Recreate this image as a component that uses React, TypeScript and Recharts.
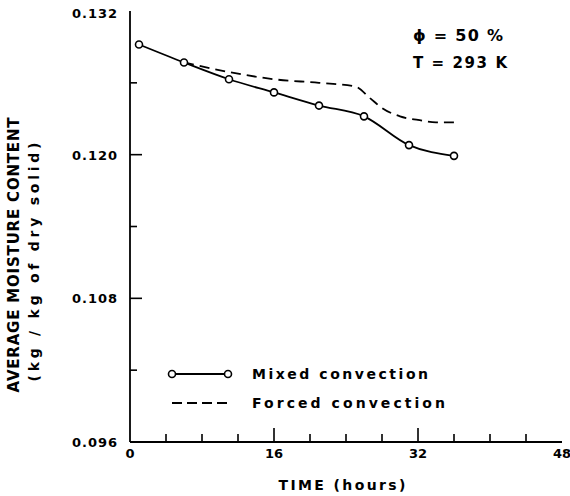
import React from 'react';
import { LineChart, Line, XAxis, YAxis, Legend } from 'recharts';

// Mixed convection (measured points)
const mixedHours = [1, 6, 11, 16, 21, 26, 31, 36];
const mixedMoisture = [0.1292, 0.1277, 0.1263, 0.1252, 0.1241, 0.1232, 0.1208, 0.1199];

// Forced convection (dashed curve)
const forcedHours = [6, 11, 16, 21, 25, 26.7, 28, 30, 32, 34, 36];
const forcedMoisture = [0.1277, 0.1269, 0.1263, 0.126, 0.1257, 0.1247, 0.1239, 0.1232, 0.1229, 0.1227, 0.1227];

const xTicks = [0, 4, 8, 12, 16, 20, 24, 28, 32, 36, 40, 44, 48];
const xMajor = [0, 16, 32, 48];
const yTicks = [0.096, 0.102, 0.108, 0.114, 0.12, 0.126, 0.132];
const yMajor = ['0.096', '0.108', '0.120', '0.132'];

const mixedData = mixedHours.map((x, i) => ({ x, y: mixedMoisture[i] }));
const forcedData = forcedHours.map((x, i) => ({ x, y: forcedMoisture[i] }));

const FONT = '"DejaVu Sans", sans-serif';

const renderXTick = (props: any) => {
  const { x, y, payload } = props;
  const v = Number(payload.value);
  const major = xMajor.includes(v);
  const showLine = v !== 0 && v !== 48;
  const px = Number(x);
  const py = Number(y);
  return (
    <g key={`xt-${v}`}>
      {showLine ? (
        <rect x={px - 0.8} y={py - (major ? 14 : 8)} width={1.6} height={major ? 14 : 8} fill="#000" stroke="none" />
      ) : null}
      {major ? (
        <text x={px} y={py + 16} textAnchor="middle" fontFamily={FONT} fontWeight="bold" fontSize={13} fill="#000">
          {String(v)}
        </text>
      ) : null}
    </g>
  );
};

const renderYTick = (props: any) => {
  const { x, y, payload } = props;
  const label = Number(payload.value).toFixed(3);
  const major = yMajor.includes(label);
  const isEnd = label === '0.096' || label === '0.132';
  const px = Number(x);
  const py = Number(y);
  return (
    <g key={`yt-${label}`}>
      {!isEnd ? (
        <rect x={px} y={py - 0.8} width={major ? 12 : 7} height={1.6} fill="#000" stroke="none" />
      ) : null}
      {major ? (
        <text x={px - 13} y={py + (label === '0.132' ? 7 : 5)} textAnchor="end" fontFamily={FONT} fontWeight="bold" fontSize={13} fill="#000" textLength={45} lengthAdjust="spacing">
          {label}
        </text>
      ) : null}
    </g>
  );
};

const YTitle = () => (
  <g>
    <text x={19} y={255} transform="rotate(-90, 19, 255)" textAnchor="middle" fontFamily={FONT} fontWeight="bold" fontSize={15} fill="#000" textLength={275} lengthAdjust="spacing">
      AVERAGE MOISTURE CONTENT
    </text>
    <text x={39} y={262} transform="rotate(-90, 39, 262)" textAnchor="middle" fontFamily={FONT} fontWeight="bold" fontSize={14} fill="#000" textLength={239} lengthAdjust="spacing">
      (kg / kg of dry solid)
    </text>
  </g>
);

const XTitle = () => (
  <text x={342} y={490} textAnchor="middle" fontFamily={FONT} fontWeight="bold" fontSize={14} fill="#000" textLength={127} lengthAdjust="spacing">
    TIME (hours)
  </text>
);

const renderLegend = () => (
  <svg width={300} height={60} style={{ display: 'block' }}>
    <line x1={7} x2={63} y1={12} y2={12} stroke="#000" strokeWidth={2} />
    <circle cx={7} cy={12} r={3.5} fill="#fff" stroke="#000" strokeWidth={1.6} />
    <circle cx={63} cy={12} r={3.5} fill="#fff" stroke="#000" strokeWidth={1.6} />
    <text x={87} y={17} fontFamily={FONT} fontWeight="bold" fontSize={14} fill="#000" textLength={176} lengthAdjust="spacing">
      Mixed convection
    </text>
    <line x1={7} x2={63} y1={41} y2={41} stroke="#000" strokeWidth={1.8} strokeDasharray="10 5" />
    <text x={87} y={46} fontFamily={FONT} fontWeight="bold" fontSize={14} fill="#000" textLength={193} lengthAdjust="spacing">
      Forced convection
    </text>
  </svg>
);

export default function App() {
  return (
    <div style={{ position: 'absolute', left: 0, top: 0, width: 570, height: 496, background: '#fff' }}>
      <LineChart width={570} height={496} margin={{ top: 11, right: 8, bottom: 0, left: 0 }}>
        <XAxis
          xAxisId="bottom"
          type="number"
          dataKey="x"
          domain={[0, 48]}
          ticks={xTicks}
          interval={0}
          height={54}
          tickSize={0}
          tickMargin={0}
          tickLine={false}
          tick={renderXTick}
          axisLine={{ stroke: '#000', strokeWidth: 1.8 }}
          label={{ content: () => <XTitle /> }}
          allowDataOverflow
        />
        <XAxis
          xAxisId="top"
          orientation="top"
          type="number"
          dataKey="x"
          domain={[0, 48]}
          height={0}
          tick={false}
          tickLine={false}
          axisLine={{ stroke: '#000', strokeWidth: 1.8 }}
        />
        <YAxis
          yAxisId="left"
          type="number"
          domain={[0.096, 0.132]}
          ticks={yTicks}
          interval={0}
          width={130}
          tickSize={0}
          tickMargin={0}
          tickLine={false}
          tick={renderYTick}
          axisLine={{ stroke: '#000', strokeWidth: 1.8 }}
          label={{ content: () => <YTitle /> }}
          allowDataOverflow
        />
        <YAxis
          yAxisId="right"
          orientation="right"
          type="number"
          domain={[0.096, 0.132]}
          width={0}
          tick={false}
          tickLine={false}
          axisLine={{ stroke: '#000', strokeWidth: 1.8 }}
        />
        <Line
          xAxisId="bottom"
          yAxisId="left"
          data={forcedData}
          dataKey="y"
          type="monotone"
          stroke="#000"
          strokeWidth={1.8}
          strokeDasharray="10 6"
          dot={false}
          activeDot={false}
          isAnimationActive={false}
          name="Forced convection"
        />
        <Line
          xAxisId="bottom"
          yAxisId="left"
          data={mixedData}
          dataKey="y"
          type="monotone"
          stroke="#000"
          strokeWidth={1.8}
          dot={{ r: 3.5, fill: '#fff', stroke: '#000', strokeWidth: 1.6 }}
          activeDot={false}
          isAnimationActive={false}
          name="Mixed convection"
        />
        <Legend
          layout="vertical"
          align="center"
          verticalAlign="middle"
          content={renderLegend}
          wrapperStyle={{ position: 'absolute', left: 165, top: 362, width: 300, height: 60 }}
        />
      </LineChart>
      <svg width={570} height={496} style={{ position: 'absolute', left: 0, top: 0, pointerEvents: 'none' }}>
        <text x={413} y={41} fontFamily={FONT} fontWeight="bold" fontSize={16} fill="#000" textLength={90} lengthAdjust="spacing">
          ϕ = 50 %
        </text>
        <text x={413} y={68} fontFamily={FONT} fontWeight="bold" fontSize={15} fill="#000" textLength={94} lengthAdjust="spacing">
          T = 293 K
        </text>
      </svg>
    </div>
  );
}
